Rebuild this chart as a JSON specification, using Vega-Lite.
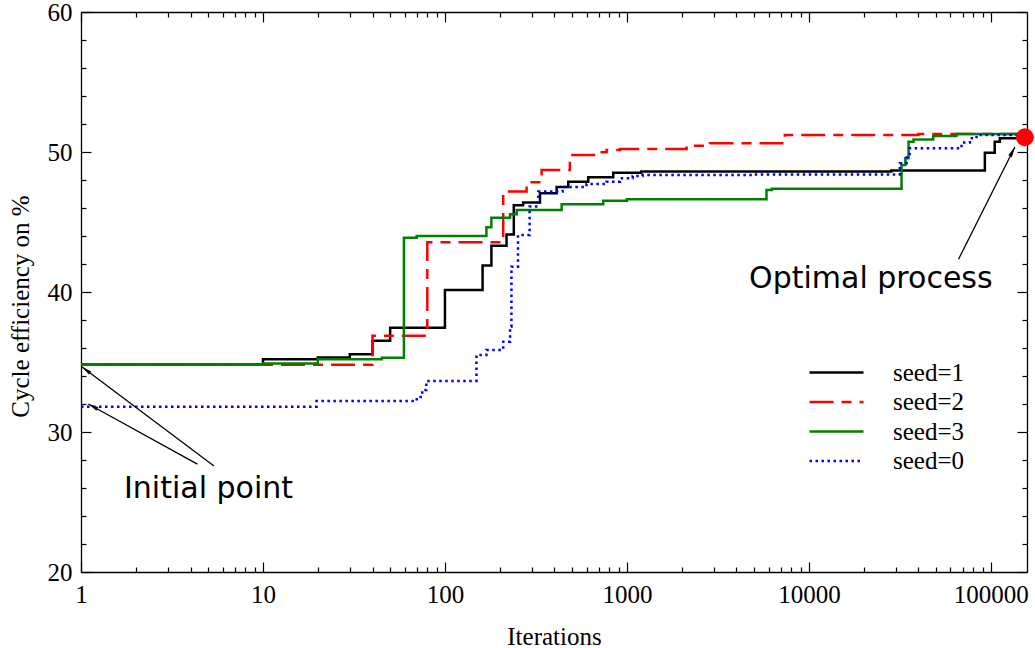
{
  "$schema": "https://vega.github.io/schema/vega-lite/v6.json",
  "width": 946,
  "height": 560,
  "autosize": "none",
  "padding": {"left": 81, "top": 12, "right": 8, "bottom": 76},
  "background": "white",
  "config": {
    "view": {"stroke": null},
    "axis": {
      "labelFont": "Liberation Serif",
      "titleFont": "Liberation Serif",
      "labelFontSize": 25,
      "titleFontSize": 25,
      "titleFontWeight": "normal",
      "labelColor": "black",
      "titleColor": "black",
      "domainColor": "black",
      "domainWidth": 1.3,
      "tickColor": "black",
      "tickWidth": 1.2,
      "grid": false,
      "labelOverlap": false,
      "labelBound": false,
      "labelFlush": false
    }
  },
  "datasets": {
    "lines": [
      {"seed": "seed=1", "x": 1, "y": 34.83},
      {"seed": "seed=1", "x": 10, "y": 35.19},
      {"seed": "seed=1", "x": 20, "y": 35.33},
      {"seed": "seed=1", "x": 30, "y": 35.55},
      {"seed": "seed=1", "x": 40, "y": 36.52},
      {"seed": "seed=1", "x": 50, "y": 37.45},
      {"seed": "seed=1", "x": 100, "y": 40.14},
      {"seed": "seed=1", "x": 161, "y": 41.9},
      {"seed": "seed=1", "x": 180, "y": 43.3},
      {"seed": "seed=1", "x": 218, "y": 44.1},
      {"seed": "seed=1", "x": 239, "y": 46.2},
      {"seed": "seed=1", "x": 269, "y": 46.4},
      {"seed": "seed=1", "x": 333, "y": 47.05},
      {"seed": "seed=1", "x": 411, "y": 47.5},
      {"seed": "seed=1", "x": 476, "y": 47.88},
      {"seed": "seed=1", "x": 613, "y": 48.19},
      {"seed": "seed=1", "x": 841, "y": 48.52},
      {"seed": "seed=1", "x": 1200, "y": 48.6},
      {"seed": "seed=1", "x": 28400, "y": 48.67},
      {"seed": "seed=1", "x": 92700, "y": 49.95},
      {"seed": "seed=1", "x": 105000, "y": 50.74},
      {"seed": "seed=1", "x": 112000, "y": 50.98},
      {"seed": "seed=1", "x": 150000, "y": 51.02},

      {"seed": "seed=2", "x": 1, "y": 34.8},
      {"seed": "seed=2", "x": 40, "y": 36.88},
      {"seed": "seed=2", "x": 80, "y": 43.55},
      {"seed": "seed=2", "x": 209, "y": 47.17},
      {"seed": "seed=2", "x": 281, "y": 47.84},
      {"seed": "seed=2", "x": 340, "y": 48.71},
      {"seed": "seed=2", "x": 486, "y": 49.79},
      {"seed": "seed=2", "x": 681, "y": 49.98},
      {"seed": "seed=2", "x": 773, "y": 50.14},
      {"seed": "seed=2", "x": 915, "y": 50.21},
      {"seed": "seed=2", "x": 2128, "y": 50.45},
      {"seed": "seed=2", "x": 2856, "y": 50.62},
      {"seed": "seed=2", "x": 7377, "y": 51.21},
      {"seed": "seed=2", "x": 40000, "y": 51.28},
      {"seed": "seed=2", "x": 150000, "y": 51.33},

      {"seed": "seed=3", "x": 1, "y": 34.8},
      {"seed": "seed=3", "x": 10, "y": 34.9},
      {"seed": "seed=3", "x": 20, "y": 35.2},
      {"seed": "seed=3", "x": 45, "y": 35.3},
      {"seed": "seed=3", "x": 59.5, "y": 43.88},
      {"seed": "seed=3", "x": 70, "y": 44.0},
      {"seed": "seed=3", "x": 169, "y": 44.62},
      {"seed": "seed=3", "x": 180, "y": 45.31},
      {"seed": "seed=3", "x": 228, "y": 45.55},
      {"seed": "seed=3", "x": 248, "y": 45.86},
      {"seed": "seed=3", "x": 438, "y": 46.26},
      {"seed": "seed=3", "x": 741, "y": 46.52},
      {"seed": "seed=3", "x": 1000, "y": 46.62},
      {"seed": "seed=3", "x": 5850, "y": 47.29},
      {"seed": "seed=3", "x": 6260, "y": 47.38},
      {"seed": "seed=3", "x": 32300, "y": 49.07},
      {"seed": "seed=3", "x": 33900, "y": 49.55},
      {"seed": "seed=3", "x": 35300, "y": 50.74},
      {"seed": "seed=3", "x": 37600, "y": 50.9},
      {"seed": "seed=3", "x": 48200, "y": 51.14},
      {"seed": "seed=3", "x": 64700, "y": 51.29},
      {"seed": "seed=3", "x": 150000, "y": 51.33},

      {"seed": "seed=0", "x": 1, "y": 31.81},
      {"seed": "seed=0", "x": 19.7, "y": 32.21},
      {"seed": "seed=0", "x": 70, "y": 32.5},
      {"seed": "seed=0", "x": 75, "y": 33.0},
      {"seed": "seed=0", "x": 79, "y": 33.65},
      {"seed": "seed=0", "x": 149, "y": 35.5},
      {"seed": "seed=0", "x": 169, "y": 35.86},
      {"seed": "seed=0", "x": 209, "y": 36.45},
      {"seed": "seed=0", "x": 228, "y": 37.52},
      {"seed": "seed=0", "x": 232, "y": 41.81},
      {"seed": "seed=0", "x": 252, "y": 44.07},
      {"seed": "seed=0", "x": 292, "y": 46.1},
      {"seed": "seed=0", "x": 326, "y": 47.17},
      {"seed": "seed=0", "x": 443, "y": 47.5},
      {"seed": "seed=0", "x": 600, "y": 47.71},
      {"seed": "seed=0", "x": 773, "y": 47.88},
      {"seed": "seed=0", "x": 915, "y": 48.12},
      {"seed": "seed=0", "x": 1076, "y": 48.29},
      {"seed": "seed=0", "x": 1220, "y": 48.36},
      {"seed": "seed=0", "x": 5000, "y": 48.4},
      {"seed": "seed=0", "x": 31600, "y": 49.19},
      {"seed": "seed=0", "x": 34400, "y": 49.6},
      {"seed": "seed=0", "x": 35800, "y": 50.26},
      {"seed": "seed=0", "x": 69000, "y": 50.67},
      {"seed": "seed=0", "x": 76700, "y": 50.98},
      {"seed": "seed=0", "x": 83400, "y": 51.21},
      {"seed": "seed=0", "x": 150000, "y": 51.33}
    ],
    "optimum": [
      {"x": 153800, "y": 51.05}
    ],
    "arrows": [
      {"id": "a1", "x": 5.38, "y": 27.57, "x2": 1.01, "y2": 34.66},
      {"id": "a2", "x": 4.36, "y": 27.71, "x2": 1.097, "y2": 32.0},
      {"id": "a3", "x": 66450, "y": 42.34, "x2": 135500, "y2": 50.36}
    ],
    "notes": [
      {"x": 5.02, "y": 25.31, "label": "Initial point"},
      {"x": 21900, "y": 40.29, "label": "Optimal process"}
    ]
  },
  "layer": [
    {
      "data": {"name": "lines"},
      "mark": {"type": "line", "interpolate": "step-after", "strokeWidth": 2.5},
      "encoding": {
        "x": {
          "field": "x", "type": "quantitative",
          "scale": {"type": "log", "domain": [1, 158000], "nice": false},
          "axis": {
            "orient": "bottom",
            "title": "Iterations",
            "values": [1,2,3,4,5,6,7,8,9,10,20,30,40,50,60,70,80,90,100,200,300,400,500,600,700,800,900,1000,2000,3000,4000,5000,6000,7000,8000,9000,10000,20000,30000,40000,50000,60000,70000,80000,90000,100000],
            "labelExpr": "indexof([1,10,100,1000,10000,100000], datum.value) >= 0 ? format(datum.value, 'd') : ''",
            "tickSize": {"condition": {"test": "indexof([1,10,100,1000,10000,100000], datum.value) >= 0", "value": -10}, "value": -5},
            "labelPadding": 20,
            "titlePadding": 12
          }
        },
        "y": {
          "field": "y", "type": "quantitative",
          "scale": {"domain": [20, 60], "nice": false, "zero": false},
          "axis": {
            "orient": "left",
            "title": "Cycle efficiency on %",
            "titleY": 294,
            "values": [20,22,24,26,28,30,32,34,36,38,40,42,44,46,48,50,52,54,56,58,60],
            "labelExpr": "datum.value % 10 == 0 ? datum.label : ''",
            "tickSize": {"condition": {"test": "datum.value % 10 == 0", "value": -10}, "value": -5},
            "labelPadding": 19,
            "titlePadding": 14
          }
        },
        "color": {
          "field": "seed", "type": "nominal",
          "scale": {"domain": ["seed=1", "seed=2", "seed=3", "seed=0"], "range": ["#000000", "#ff0000", "#008000", "#0000ff"]},
          "legend": {
            "title": null, "orient": "none", "legendX": 743, "legendY": 348,
            "symbolType": "M-2.7,0L2.7,0", "symbolSize": 400, "symbolStrokeWidth": 2.5,
            "labelFont": "Liberation Serif", "labelFontSize": 25, "labelColor": "black",
            "labelOffset": 44, "rowPadding": 3.5, "padding": 0
          }
        },
        "strokeDash": {
          "field": "seed", "type": "nominal",
          "scale": {"domain": ["seed=1", "seed=2", "seed=3", "seed=0"], "range": [[1, 0], [24, 8, 10, 8], [1, 0], [2.5, 3.5]]},
          "legend": {
            "title": null, "orient": "none", "legendX": 743, "legendY": 348,
            "symbolType": "M-2.7,0L2.7,0", "symbolSize": 400, "symbolStrokeWidth": 2.5,
            "labelFont": "Liberation Serif", "labelFontSize": 25, "labelColor": "black",
            "labelOffset": 44, "rowPadding": 3.5, "padding": 0
          }
        }
      }
    },
    {
      "data": {"name": "optimum"},
      "mark": {"type": "point", "filled": true, "color": "#ff0000", "opacity": 1, "size": 320},
      "encoding": {
        "x": {
          "field": "x", "type": "quantitative",
          "scale": {"type": "log", "domain": [1, 158000], "nice": false},
          "axis": {
            "orient": "top", "title": null, "labels": false,
            "values": [1,2,3,4,5,6,7,8,9,10,20,30,40,50,60,70,80,90,100,200,300,400,500,600,700,800,900,1000,2000,3000,4000,5000,6000,7000,8000,9000,10000,20000,30000,40000,50000,60000,70000,80000,90000,100000],
            "tickSize": {"condition": {"test": "indexof([1,10,100,1000,10000,100000], datum.value) >= 0", "value": -10}, "value": -5}
          }
        },
        "y": {
          "field": "y", "type": "quantitative",
          "scale": {"domain": [20, 60], "nice": false, "zero": false},
          "axis": {
            "orient": "right", "title": null, "labels": false,
            "values": [20,22,24,26,28,30,32,34,36,38,40,42,44,46,48,50,52,54,56,58,60],
            "tickSize": {"condition": {"test": "datum.value % 10 == 0", "value": -10}, "value": -5}
          }
        }
      }
    },
    {
      "data": {"name": "arrows"},
      "mark": {"type": "rule", "color": "black", "strokeWidth": 1.3},
      "encoding": {
        "x": {"field": "x", "type": "quantitative", "axis": null},
        "y": {"field": "y", "type": "quantitative", "axis": null},
        "x2": {"field": "x2"},
        "y2": {"field": "y2"}
      }
    },
    {
      "data": {"name": "arrows"},
      "transform": [{"filter": "datum.id == 'a1'"}],
      "mark": {"type": "point", "shape": "M0,0L0.5,2.6L-0.5,2.6Z", "filled": true, "color": "black", "opacity": 1, "size": 64, "angle": 307},
      "encoding": {
        "x": {"field": "x2", "type": "quantitative", "axis": null},
        "y": {"field": "y2", "type": "quantitative", "axis": null}
      }
    },
    {
      "data": {"name": "arrows"},
      "transform": [{"filter": "datum.id == 'a2'"}],
      "mark": {"type": "point", "shape": "M0,0L0.5,2.6L-0.5,2.6Z", "filled": true, "color": "black", "opacity": 1, "size": 64, "angle": 299},
      "encoding": {
        "x": {"field": "x2", "type": "quantitative", "axis": null},
        "y": {"field": "y2", "type": "quantitative", "axis": null}
      }
    },
    {
      "data": {"name": "arrows"},
      "transform": [{"filter": "datum.id == 'a3'"}],
      "mark": {"type": "point", "shape": "M0,0L0.5,2.6L-0.5,2.6Z", "filled": true, "color": "black", "opacity": 1, "size": 64, "angle": 27},
      "encoding": {
        "x": {"field": "x2", "type": "quantitative", "axis": null},
        "y": {"field": "y2", "type": "quantitative", "axis": null}
      }
    },
    {
      "data": {"name": "notes"},
      "mark": {"type": "text", "font": "DejaVu Sans", "fontSize": 30, "color": "black", "align": "center", "baseline": "alphabetic"},
      "encoding": {
        "x": {"field": "x", "type": "quantitative", "axis": null},
        "y": {"field": "y", "type": "quantitative", "axis": null},
        "text": {"field": "label"}
      }
    }
  ],
  "resolve": {"axis": {"x": "independent", "y": "independent"}}
}
